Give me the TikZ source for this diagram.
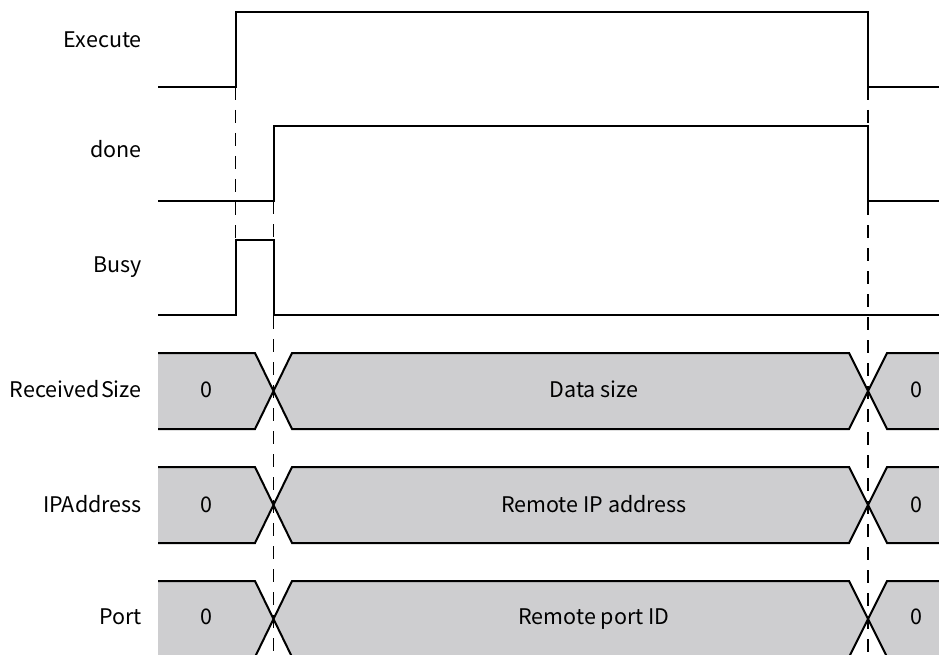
\documentclass[tikz,border=0pt]{standalone}
\usepackage{fontspec}
\setmainfont{Noto Sans CJK SC}
\definecolor{busgray}{RGB}{206,206,208}
\begin{document}
\begin{tikzpicture}[x=1pt,y=-1pt,
  sig/.style={line width=2pt,line join=miter,line cap=butt},
  dashln/.style={line width=1.8pt,dash pattern=on 13pt off 10pt},
  busfill/.style={fill=busgray,draw=none},
  lbl/.style={anchor=base east,inner sep=0pt,font=\fontsize{21.5}{24}\selectfont},
  val/.style={anchor=base,inner sep=0pt,font=\fontsize{21.5}{24}\selectfont}]
\useasboundingbox (0,0) rectangle (939,655);
\clip (0,0) rectangle (939,655);
\fill[white] (0,0) rectangle (939,655);

% bus rows
\foreach \t/\nm/\txt/\b in {353/rs/Data size/397, 467/ip/Remote IP address/512, 581/pt/Remote port ID/624}{
  \pgfmathsetmacro{\m}{\t+38}
  \pgfmathsetmacro{\bt}{\t+76}
  \fill[busfill] (158,\t) -- (255,\t) -- (273,\m) -- (255,\bt) -- (158,\bt) -- cycle;
  \fill[busfill] (292,\t) -- (849,\t) -- (868,\m) -- (849,\bt) -- (292,\bt) -- (273,\m) -- cycle;
  \fill[busfill] (887,\t) -- (945,\t) -- (945,\bt) -- (887,\bt) -- (868,\m) -- cycle;
  \draw[sig] (158,\t) -- (255,\t) -- (292,\bt) -- (849,\bt) -- (887,\t) -- (945,\t);
  \draw[sig] (158,\bt) -- (255,\bt) -- (292,\t) -- (849,\t) -- (887,\bt) -- (945,\bt);
  \node[val] (\nm-a) at (206.5,\b) {0};
  \node[val] (\nm-b) at (594,\b) {\txt};
  \node[val] (\nm-c) at (916,\b) {0};
}

% dashed guide lines
\draw[dashln] (235.5,87) -- (235.5,240);
\draw[dashln] (273.5,201) -- (273.5,660);
\draw[dashln] (868,87) -- (868,660);

% Execute
\draw[sig] (158,87) -- (235.5,87) -- (235.5,12) -- (868,12) -- (868,87) -- (945,87);
% done
\draw[sig] (158,201) -- (273.5,201) -- (273.5,126) -- (868,126) -- (868,201) -- (945,201);
% Busy
\draw[sig] (158,315) -- (235.5,315) -- (235.5,240) -- (273.5,240) -- (273.5,315) -- (945,315);

% labels
\node[lbl] (lexec) at (142,48) {Execute};
\node[lbl] (ldone) at (142,158) {done};
\node[lbl] (lbusy) at (142,272) {Busy};
\node[lbl] (lrs) at (142,397) {Received\kern1.5pt Size};
\node[lbl] (lip) at (142,512) {IPAddress};
\node[lbl] (lport) at (142,624) {Port};
\end{tikzpicture}
\end{document}
